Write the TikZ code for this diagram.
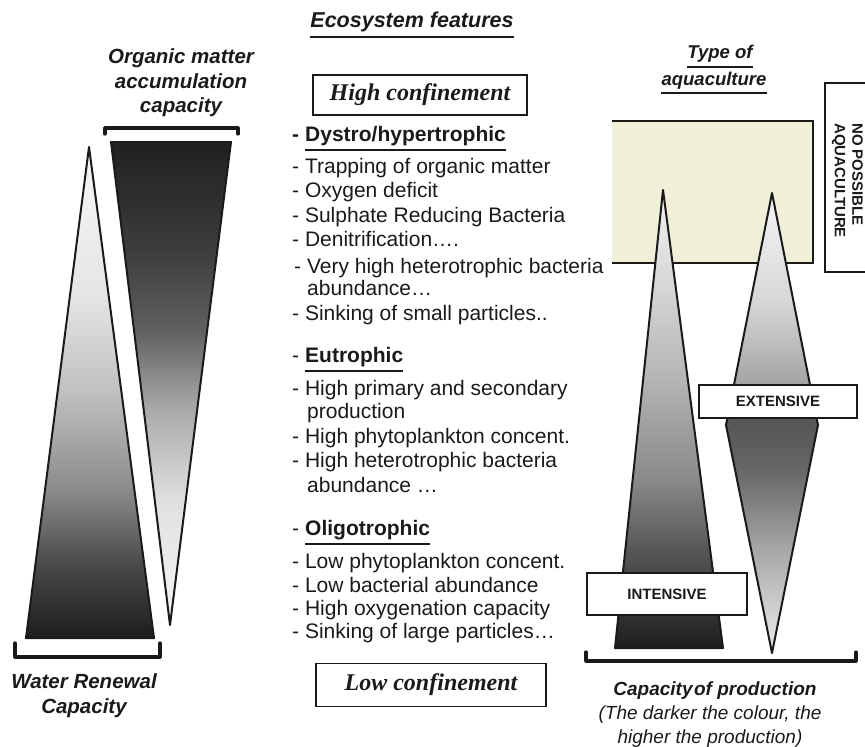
\documentclass[tikz,border=0pt]{standalone}
\usepackage{fontspec}
\setmainfont{Liberation Sans}
\newfontfamily\serifit{Liberation Serif}
\definecolor{lineblk}{HTML}{1A1A1A}
\definecolor{beige}{HTML}{F0F0D8}
% water renewal
\definecolor{wrA}{HTML}{1C1C1C}\definecolor{wrB}{HTML}{4A4A4A}\definecolor{wrC}{HTML}{8A8A8A}
\definecolor{wrD}{HTML}{C0C0C0}\definecolor{wrE}{HTML}{E5E5E5}\definecolor{wrF}{HTML}{F7F7F7}
% organic matter
\definecolor{omA}{HTML}{F5F5F5}\definecolor{omB}{HTML}{E0E0E0}\definecolor{omC}{HTML}{A8A8A8}
\definecolor{omD}{HTML}{606060}\definecolor{omE}{HTML}{3C3C3C}\definecolor{omF}{HTML}{202020}
% intensive
\definecolor{inA}{HTML}{1E1E1E}\definecolor{inB}{HTML}{555555}\definecolor{inC}{HTML}{8A8A8A}
\definecolor{inD}{HTML}{B5B5B5}\definecolor{inE}{HTML}{D8D8D8}\definecolor{inF}{HTML}{F2F2F2}
% extensive
\definecolor{exA}{HTML}{E8E8E8}\definecolor{exB}{HTML}{D8D8D8}\definecolor{exC}{HTML}{A5A5A5}
\definecolor{exD}{HTML}{666666}\definecolor{exE}{HTML}{555555}\definecolor{exF}{HTML}{8C8C8C}
\definecolor{exG}{HTML}{A8A8A8}\definecolor{exH}{HTML}{D8D8D8}\definecolor{exI}{HTML}{F5F5F5}
\pgfdeclareverticalshading{wrs}{100bp}{color(0bp)=(wrA); color(25bp)=(wrA); color(32.5bp)=(wrB); color(40bp)=(wrC); color(50bp)=(wrD); color(60bp)=(wrE); color(75bp)=(wrF); color(100bp)=(wrF)}
\pgfdeclareverticalshading{oms}{100bp}{color(0bp)=(omA); color(25bp)=(omA); color(38bp)=(omB); color(47.5bp)=(omC); color(55.5bp)=(omD); color(64bp)=(omE); color(75bp)=(omF); color(100bp)=(omF)}
\pgfdeclareverticalshading{ins}{100bp}{color(0bp)=(inA); color(25bp)=(inA); color(35.5bp)=(inB); color(43.5bp)=(inC); color(54.5bp)=(inD); color(65bp)=(inE); color(75bp)=(inF); color(100bp)=(inF)}
\pgfdeclareverticalshading{exs}{100bp}{color(0bp)=(exA); color(25bp)=(exA); color(28.5bp)=(exB); color(36.5bp)=(exC); color(45bp)=(exD); color(50.6bp)=(exE); color(50.8bp)=(exF); color(55bp)=(exG); color(63.5bp)=(exH); color(75bp)=(exI); color(100bp)=(exI)}
\begin{document}
\begin{tikzpicture}[x=1pt,y=-1pt,
  outl/.style={draw=lineblk, line width=2pt, line join=round},
  brk/.style={draw=lineblk, line width=3.2pt, line join=round, line cap=round},
  ul/.style={draw=lineblk, line width=2.6pt},
  txt/.style={anchor=base west, inner sep=0pt, font=\fontsize{21}{25}\selectfont, text=lineblk},
  hdl/.style={anchor=base, inner sep=0pt, font=\bfseries\itshape\fontsize{20.5}{24}\selectfont, text=lineblk},
  hdr/.style={anchor=base, inner sep=0pt, font=\bfseries\itshape\fontsize{18.5}{22}\selectfont, text=lineblk},
  confbox/.style={draw=lineblk, line width=1.3pt, fill=white, font=\serifit\bfseries\itshape\fontsize{24}{28}\selectfont, text=lineblk},
  typebox/.style={draw=lineblk, line width=1.2pt, fill=white, font=\bfseries\fontsize{15}{18}\selectfont, text=lineblk}]
\useasboundingbox (0,0) rectangle (865,747);

% ---------- left: triangles ----------
\path[outl, shade, shading=wrs] (89,147) -- (154,638) -- (26,638) -- cycle;
\path[outl, shade, shading=oms] (111,142) -- (231,142) -- (170,625) -- cycle;
\draw[brk] (105,134) -- (105,128) -- (238,128) -- (238,134);
\draw[brk] (15,643) -- (15,657) -- (160,657) -- (160,643);

\node[hdl] (om1) at (181,63) {Organic matter};
\node[hdl] (om2) at (181,88) {accumulation};
\node[hdl] (om3) at (181,112) {capacity};
\node[hdl] (wr1) at (84,688) {Water Renewal};
\node[hdl] (wr2) at (84,713) {Capacity};

% ---------- centre ----------
\node[hdl, font=\bfseries\itshape\fontsize{21.5}{25}\selectfont] (eco) at (412,27) {Ecosystem features};
\draw[ul] ([yshift=-10pt]eco.base west) -- ([yshift=-10pt]eco.base east);

\node[confbox, minimum width=214pt, minimum height=40pt] (hc) at (420,95) {High confinement};
\node[confbox, minimum width=230pt, minimum height=43pt] (lc) at (431,685) {Low confinement};

\node[txt, font=\bfseries\fontsize{21}{25}\selectfont] (d1) at (292,141) {-};
\node[txt, font=\bfseries\fontsize{21}{25}\selectfont] (h1) at (305,141) {Dystro/hypertrophic};
\draw[ul] ([yshift=-9pt]h1.base west) -- ([yshift=-9pt]h1.base east);
\node[txt] (a1) at (292,173) {- Trapping of organic matter};
\node[txt] (a2) at (292,197) {- Oxygen deficit};
\node[txt] (a3) at (292,222) {- Sulphate Reducing Bacteria};
\node[txt] (a4) at (292,246) {- Denitrification….};
\node[txt] (a5) at (294,273) {- Very high heterotrophic bacteria};
\node[txt] (a6) at (307,295) {abundance…};
\node[txt] (a7) at (292,320) {- Sinking of small particles..};

\node[txt] (d2) at (292,362) {-};
\node[txt, font=\bfseries\fontsize{21}{25}\selectfont] (h2) at (305,362) {Eutrophic};
\draw[ul] ([yshift=-9pt]h2.base west) -- ([yshift=-9pt]h2.base east);
\node[txt] (b1) at (292,395) {- High primary and secondary};
\node[txt] (b2) at (307,418) {production};
\node[txt] (b3) at (292,443) {- High phytoplankton concent.};
\node[txt] (b4) at (292,467) {- High heterotrophic bacteria};
\node[txt] (b5) at (307,492) {abundance …};

\node[txt] (d3) at (292,535) {-};
\node[txt, font=\bfseries\fontsize{21}{25}\selectfont] (h3) at (305,535) {Oligotrophic};
\draw[ul] ([yshift=-9pt]h3.base west) -- ([yshift=-9pt]h3.base east);
\node[txt] (c1) at (292,568) {- Low phytoplankton concent.};
\node[txt] (c2) at (292,592) {- Low bacterial abundance};
\node[txt] (c3) at (292,615) {- High oxygenation capacity};
\node[txt] (c4) at (292,638) {- Sinking of large particles…};

% ---------- right ----------
\node[hdr] (ty1) at (720,58) {Type of};
\draw[ul] ([yshift=-9pt]ty1.base west) -- ([yshift=-9pt]ty1.base east);
\node[hdr] (ty2) at (714,85) {aquaculture};
\draw[ul] ([yshift=-8pt]ty2.base west) -- ([yshift=-8pt]ty2.base east);

\fill[beige] (612,121) rectangle (813,263);
\draw[outl, line join=miter] (612,121) -- (813,121) -- (813,263) -- (612,263);

\draw[draw=lineblk, line width=1.6pt] (875,83) -- (825,83) -- (825,272) -- (875,272);
\node[rotate=-90, anchor=west, align=left, inner sep=0pt, font=\bfseries\fontsize{15}{17.5}\selectfont, text=lineblk] (nopa) at (847.5,123) {NO POSSIBLE\\AQUACULTURE};

\path[outl, shade, shading=ins] (663,190) -- (723,648) -- (615,648) -- cycle;
\path[outl, shade, shading=exs] (772,193) -- (818,425) -- (772,653) -- (726,425) -- cycle;

\node[typebox, minimum width=160pt, minimum height=42pt] (int) at (667,594) {INTENSIVE};
\node[typebox, minimum width=158pt, minimum height=33pt] (ext) at (778,401.5) {EXTENSIVE};

\draw[brk] (586,652) -- (586,661) -- (856,661) -- (856,652);

\node[hdr, font=\bfseries\itshape\fontsize{19}{22}\selectfont] (cap) at (715,695) {Capacity\hspace{1.5pt}of production};
\node[anchor=base, inner sep=0pt, font=\itshape\fontsize{19}{22}\selectfont, text=lineblk] (cp2) at (710,719) {(The darker the colour, the};
\node[anchor=base, inner sep=0pt, font=\itshape\fontsize{19}{22}\selectfont, text=lineblk] (cp3) at (710,743) {higher the production)};
\end{tikzpicture}
\end{document}
